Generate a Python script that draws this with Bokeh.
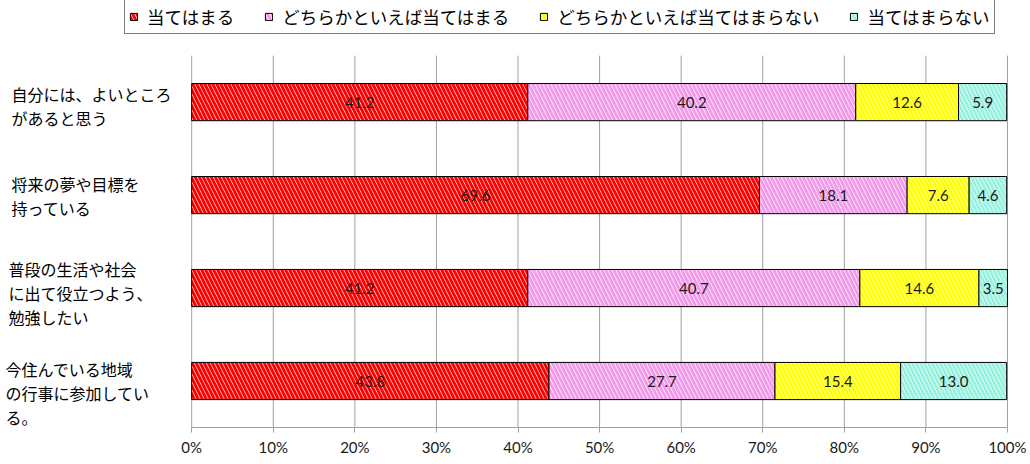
from bokeh.plotting import figure
from bokeh.models import ColumnDataSource, Legend, PrintfTickFormatter, FixedTicker, Range1d
from bokeh.core.properties import value
from bokeh.embed import file_html
from bokeh.resources import INLINE

# ---- data ----
categories = ["自分には、よいところ\nがあると思う",
              "将来の夢や目標を\n持っている",
              "普段の生活や社会\nに出て役立つよう、\n勉強したい",
              "今住んでいる地域\nの行事に参加してい\nる。"]
series_names = ["当てはまる", "どちらかといえば当てはまる",
                "どちらかといえば当てはまらない", "当てはまらない"]
s1 = [41.2, 69.6, 41.2, 43.8]
s2 = [40.2, 18.1, 40.7, 27.7]
s3 = [12.6, 7.6, 14.6, 15.4]
s4 = [5.9, 4.6, 3.5, 13.0]
x_ticks = [0, 10, 20, 30, 40, 50, 60, 70, 80, 90, 100]

# ---- styles ----
hatch_colors = ["#FF0000", "#F39BEB", "#FFFF00", "#99F2E0"]
label_dx = [11, 11, 8, 5]          # px from frame left of category labels
label_dy = [-20, -23, -31, -24]    # px offsets of category label block tops
JP = "Noto Sans CJK JP"

n = len(categories)
ypos = [n - i - 0.5 for i in range(n)]
keys = ["a", "b", "c", "d"]
src = ColumnDataSource(dict(y=ypos, a=s1, b=s2, c=s3, d=s4))

p = figure(width=1028, height=458,
           x_range=Range1d(-191 / 8.15, 100 + 9 / 8.15),
           y_range=Range1d(0, n + 55 / 92.75),
           y_axis_location=None,
           output_backend="svg", toolbar_location=None,
           min_border_left=0, min_border_right=12, min_border_top=0, min_border_bottom=29)
p.outline_line_color = None
p.xgrid.grid_line_color = None
p.ygrid.grid_line_color = None

# vertical grid lines at the ticks, over the category area only
p.segment(x0=x_ticks, y0=[0] * len(x_ticks), x1=x_ticks, y1=[n] * len(x_ticks),
          line_color="#A0A0A0", line_width=1)

rs = p.hbar_stack(keys, y="y", height=0.4, source=src,
                  fill_color="white", hatch_color=hatch_colors,
                  hatch_pattern="left_diagonal_line", hatch_scale=8, hatch_weight=3.0,
                  line_color="black", line_width=1)

# value labels
starts = [0, 0, 0, 0]
tx, ty, tt = [], [], []
for vals in (s1, s2, s3, s4):
    for i, v in enumerate(vals):
        tx.append(starts[i] + v / 2)
        ty.append(ypos[i])
        tt.append(f"{v:.1f}")
        starts[i] += v
p.text(x=tx, y=ty, text=tt, text_align="center", text_baseline="middle",
       text_font=value("Lato"), text_font_size="15px", text_color="#1a1a1a")

# category labels
p.text(x=[p.x_range.start] * n, y=ypos, text=categories, x_offset=label_dx, y_offset=label_dy,
       text_align="left", text_baseline="top", text_font=value(JP),
       text_font_size="16px", text_color="#000000", text_line_height=1.0)

# axes
p.xaxis.bounds = (0, 100)
p.xaxis.ticker = FixedTicker(ticks=x_ticks)
p.xaxis.formatter = PrintfTickFormatter(format="%d%%")
p.xaxis.axis_line_color = "#A0A0A0"
p.xaxis.major_tick_line_color = "#A0A0A0"
p.xaxis.major_tick_out = 5
p.xaxis.major_tick_in = 0
p.xaxis.minor_tick_line_color = None
p.xaxis.major_label_text_font = "Lato"
p.xaxis.major_label_text_font_size = "15px"
p.xaxis.major_label_text_color = "#1a1a1a"
p.xaxis.major_label_standoff = 5

# legend
legend = Legend(items=[(nm, [r]) for nm, r in zip(series_names, rs)],
                orientation="horizontal", location=(124, 393),
                label_text_font=JP, label_text_font_size="17.5px", label_text_color="#000000",
                glyph_width=9, glyph_height=9, label_standoff=9, spacing=30,
                padding=4, margin=0, border_line_color="black", border_line_width=1,
                background_fill_color="white")
p.add_layout(legend, "center")

open("out.html", "w").write(file_html(p, INLINE))
